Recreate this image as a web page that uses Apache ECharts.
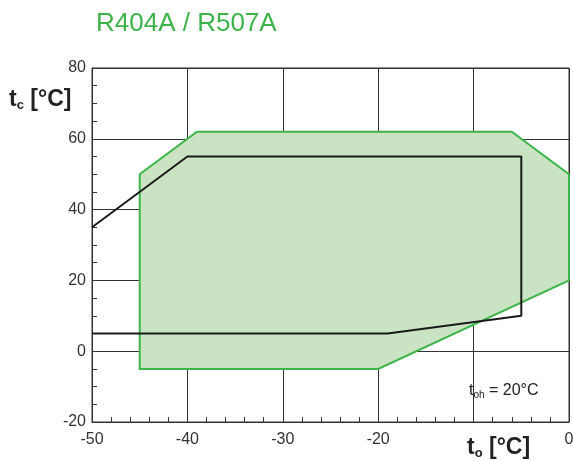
<!DOCTYPE html>
<html><head><meta charset="utf-8">
<script src="https://cdn.jsdelivr.net/npm/echarts@6/dist/echarts.min.js"></script>
<style>html,body{margin:0;padding:0;background:#fff}#c{width:573px;height:461px}</style>
</head><body><div id="c"></div>
<script>
// Operating envelope (green): [t_o, t_c]
const envelopeTo = [-45, -45, -39, -6, 0, 0, -20];
const envelopeTc = [-5, 50, 62, 62, 50, 20, -5];
// Black limit line: [t_o, t_c]
const limitTo = [-50, -40, -5, -5, -19, -50];
const limitTc = [35, 55, 55, 10, 5, 5];
const xTicks = [-50, -40, -30, -20, 0];
const yTicks = [-20, 0, 20, 40, 60, 80];

const envelope = envelopeTo.map((x, i) => [x, envelopeTc[i]]);
const limit = limitTo.map((x, i) => [x, limitTc[i]]);

const chart = echarts.init(document.getElementById('c'));
const font = 'Liberation Sans, Arial, sans-serif';
chart.setOption({
  animation: false,
  grid: {left: 92, right: 4, top: 68, bottom: 39, outerBoundsMode: 'none', containLabel: false,
         show: true, borderColor: '#333', borderWidth: 1},
  xAxis: {
    type: 'value', min: -50, max: 0, interval: 10,
    axisLine: {onZero: false, lineStyle: {color: '#333'}},
    axisTick: {inside: true, length: 5, lineStyle: {color: '#333'}},
    minorTick: {show: true, splitNumber: 5, length: 5, lineStyle: {color: '#333'}},
    splitLine: {show: true, lineStyle: {color: '#333', width: 1}},
    axisLabel: {color: '#333', fontSize: 16, fontFamily: font, margin: 10, hideOverlap: false,
      formatter: v => xTicks.includes(v) ? String(v) : ''}
  },
  yAxis: {
    type: 'value', min: -20, max: 80, interval: 20,
    axisLine: {show: true, onZero: false, lineStyle: {color: '#333'}},
    axisTick: {show: true, inside: true, length: 5, lineStyle: {color: '#333'}},
    minorTick: {show: true, splitNumber: 4, length: 5, lineStyle: {color: '#333'}},
    splitLine: {show: true, lineStyle: {color: '#333', width: 1}},
    axisLabel: {color: '#333', fontSize: 16, fontFamily: font, margin: 6,
      formatter: v => yTicks.includes(v) ? String(v) : ''}
  },
  series: [
    {
      type: 'custom',
      data: [0],
      renderItem: function (params, api) {
        const pts = envelope.map(p => api.coord(p));
        return {
          type: 'polygon',
          shape: {points: pts},
          style: {fill: '#c9e3c3', stroke: '#3cb44a', lineWidth: 2}
        };
      },
      z: 2
    },
    {
      type: 'line',
      data: limit,
      symbol: 'none',
      lineStyle: {color: '#1a1a1a', width: 2},
      z: 3
    }
  ],
  graphic: [
    {type: 'text', left: 96, top: 11, style: {text: 'R404A / R507A', fill: '#3cb44a', font: '26px ' + font}},
    {type: 'text', left: 9, top: 88, style: {
      text: '{b|t}{s|c}{b| [°C]}',
      rich: {b: {fontSize: 23, fontWeight: 'bold', fontFamily: font, fill: '#222'},
             s: {fontSize: 13, fontWeight: 'bold', fontFamily: font, fill: '#222', verticalAlign: 'bottom', padding: [12, 0, 0, 0]}}
    }},
    {type: 'text', left: 467, top: 436, style: {
      text: '{b|t}{s|o}{b| [°C]}',
      rich: {b: {fontSize: 23, fontWeight: 'bold', fontFamily: font, fill: '#222'},
             s: {fontSize: 13, fontWeight: 'bold', fontFamily: font, fill: '#222', verticalAlign: 'bottom', padding: [12, 0, 0, 0]}}
    }},
    {type: 'text', left: 469, top: 383, style: {
      text: '{n|t}{s|oh}{n| = 20°C}',
      rich: {n: {fontSize: 16, fontFamily: font, fill: '#222'},
             s: {fontSize: 10, fontFamily: font, fill: '#222', verticalAlign: 'bottom', padding: [8, 0, 0, 0]}}
    }, z: 10}
  ]
});
</script></body></html>
